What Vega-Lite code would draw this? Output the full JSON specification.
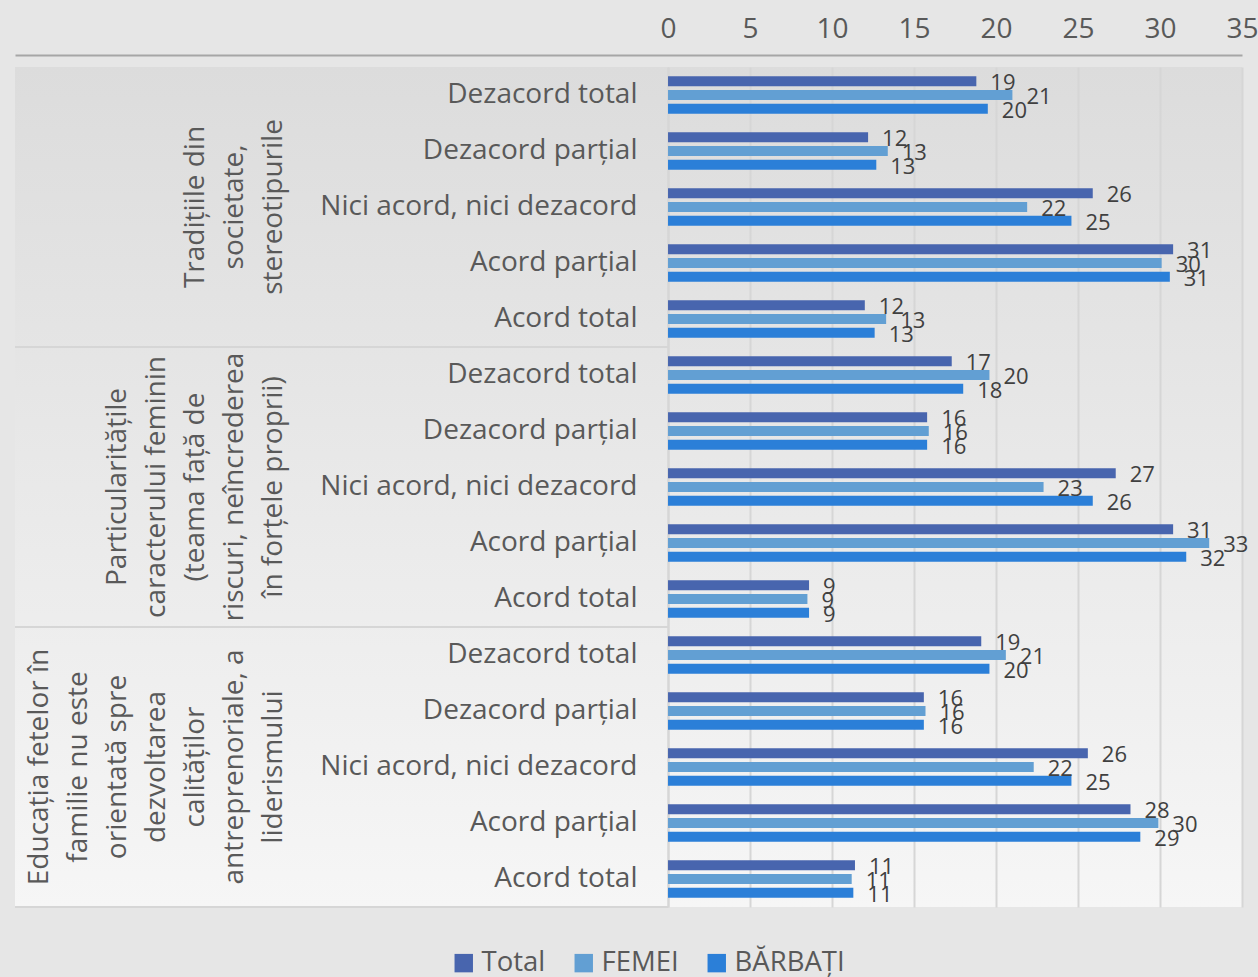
{
  "$schema": "https://vega.github.io/schema/vega-lite/v6.json",
  "width": 1227,
  "height": 840,
  "autosize": {"type": "none"},
  "padding": {"left": 15, "top": 67, "right": 16, "bottom": 70},
  "background": "#E6E6E6",
  "config": {
    "font": "Open Sans",
    "view": {
      "stroke": null,
      "fill": {"gradient": "linear", "x1": 0, "y1": 0, "x2": 0, "y2": 1,
        "stops": [{"offset": 0, "color": "#DCDCDC"}, {"offset": 1, "color": "#F6F6F6"}]}
    }
  },
  "datasets": {
    "bars": [
      {"grup": "Tradițiile din societate, stereotipurile", "cat": "Dezacord total", "serie": "Total", "v": 18.8},
      {"grup": "Tradițiile din societate, stereotipurile", "cat": "Dezacord total", "serie": "FEMEI", "v": 21.0},
      {"grup": "Tradițiile din societate, stereotipurile", "cat": "Dezacord total", "serie": "BĂRBAȚI", "v": 19.5},
      {"grup": "Tradițiile din societate, stereotipurile", "cat": "Dezacord parțial", "serie": "Total", "v": 12.2},
      {"grup": "Tradițiile din societate, stereotipurile", "cat": "Dezacord parțial", "serie": "FEMEI", "v": 13.4},
      {"grup": "Tradițiile din societate, stereotipurile", "cat": "Dezacord parțial", "serie": "BĂRBAȚI", "v": 12.7},
      {"grup": "Tradițiile din societate, stereotipurile", "cat": "Nici acord, nici dezacord", "serie": "Total", "v": 25.9},
      {"grup": "Tradițiile din societate, stereotipurile", "cat": "Nici acord, nici dezacord", "serie": "FEMEI", "v": 21.9},
      {"grup": "Tradițiile din societate, stereotipurile", "cat": "Nici acord, nici dezacord", "serie": "BĂRBAȚI", "v": 24.6},
      {"grup": "Tradițiile din societate, stereotipurile", "cat": "Acord parțial", "serie": "Total", "v": 30.8},
      {"grup": "Tradițiile din societate, stereotipurile", "cat": "Acord parțial", "serie": "FEMEI", "v": 30.1},
      {"grup": "Tradițiile din societate, stereotipurile", "cat": "Acord parțial", "serie": "BĂRBAȚI", "v": 30.6},
      {"grup": "Tradițiile din societate, stereotipurile", "cat": "Acord total", "serie": "Total", "v": 12.0},
      {"grup": "Tradițiile din societate, stereotipurile", "cat": "Acord total", "serie": "FEMEI", "v": 13.3},
      {"grup": "Tradițiile din societate, stereotipurile", "cat": "Acord total", "serie": "BĂRBAȚI", "v": 12.6},
      {"grup": "Particularitățile caracterului feminin (teama față de riscuri, neîncrederea în forțele proprii)", "cat": "Dezacord total", "serie": "Total", "v": 17.3},
      {"grup": "Particularitățile caracterului feminin (teama față de riscuri, neîncrederea în forțele proprii)", "cat": "Dezacord total", "serie": "FEMEI", "v": 19.6},
      {"grup": "Particularitățile caracterului feminin (teama față de riscuri, neîncrederea în forțele proprii)", "cat": "Dezacord total", "serie": "BĂRBAȚI", "v": 18.0},
      {"grup": "Particularitățile caracterului feminin (teama față de riscuri, neîncrederea în forțele proprii)", "cat": "Dezacord parțial", "serie": "Total", "v": 15.8},
      {"grup": "Particularitățile caracterului feminin (teama față de riscuri, neîncrederea în forțele proprii)", "cat": "Dezacord parțial", "serie": "FEMEI", "v": 15.9},
      {"grup": "Particularitățile caracterului feminin (teama față de riscuri, neîncrederea în forțele proprii)", "cat": "Dezacord parțial", "serie": "BĂRBAȚI", "v": 15.8},
      {"grup": "Particularitățile caracterului feminin (teama față de riscuri, neîncrederea în forțele proprii)", "cat": "Nici acord, nici dezacord", "serie": "Total", "v": 27.3},
      {"grup": "Particularitățile caracterului feminin (teama față de riscuri, neîncrederea în forțele proprii)", "cat": "Nici acord, nici dezacord", "serie": "FEMEI", "v": 22.9},
      {"grup": "Particularitățile caracterului feminin (teama față de riscuri, neîncrederea în forțele proprii)", "cat": "Nici acord, nici dezacord", "serie": "BĂRBAȚI", "v": 25.9},
      {"grup": "Particularitățile caracterului feminin (teama față de riscuri, neîncrederea în forțele proprii)", "cat": "Acord parțial", "serie": "Total", "v": 30.8},
      {"grup": "Particularitățile caracterului feminin (teama față de riscuri, neîncrederea în forțele proprii)", "cat": "Acord parțial", "serie": "FEMEI", "v": 33.0},
      {"grup": "Particularitățile caracterului feminin (teama față de riscuri, neîncrederea în forțele proprii)", "cat": "Acord parțial", "serie": "BĂRBAȚI", "v": 31.6},
      {"grup": "Particularitățile caracterului feminin (teama față de riscuri, neîncrederea în forțele proprii)", "cat": "Acord total", "serie": "Total", "v": 8.6},
      {"grup": "Particularitățile caracterului feminin (teama față de riscuri, neîncrederea în forțele proprii)", "cat": "Acord total", "serie": "FEMEI", "v": 8.5},
      {"grup": "Particularitățile caracterului feminin (teama față de riscuri, neîncrederea în forțele proprii)", "cat": "Acord total", "serie": "BĂRBAȚI", "v": 8.6},
      {"grup": "Educația fetelor în familie nu este orientată spre dezvoltarea calităților antreprenoriale, a liderismului", "cat": "Dezacord total", "serie": "Total", "v": 19.1},
      {"grup": "Educația fetelor în familie nu este orientată spre dezvoltarea calităților antreprenoriale, a liderismului", "cat": "Dezacord total", "serie": "FEMEI", "v": 20.6},
      {"grup": "Educația fetelor în familie nu este orientată spre dezvoltarea calităților antreprenoriale, a liderismului", "cat": "Dezacord total", "serie": "BĂRBAȚI", "v": 19.6},
      {"grup": "Educația fetelor în familie nu este orientată spre dezvoltarea calităților antreprenoriale, a liderismului", "cat": "Dezacord parțial", "serie": "Total", "v": 15.6},
      {"grup": "Educația fetelor în familie nu este orientată spre dezvoltarea calităților antreprenoriale, a liderismului", "cat": "Dezacord parțial", "serie": "FEMEI", "v": 15.7},
      {"grup": "Educația fetelor în familie nu este orientată spre dezvoltarea calităților antreprenoriale, a liderismului", "cat": "Dezacord parțial", "serie": "BĂRBAȚI", "v": 15.6},
      {"grup": "Educația fetelor în familie nu este orientată spre dezvoltarea calităților antreprenoriale, a liderismului", "cat": "Nici acord, nici dezacord", "serie": "Total", "v": 25.6},
      {"grup": "Educația fetelor în familie nu este orientată spre dezvoltarea calităților antreprenoriale, a liderismului", "cat": "Nici acord, nici dezacord", "serie": "FEMEI", "v": 22.3},
      {"grup": "Educația fetelor în familie nu este orientată spre dezvoltarea calităților antreprenoriale, a liderismului", "cat": "Nici acord, nici dezacord", "serie": "BĂRBAȚI", "v": 24.6},
      {"grup": "Educația fetelor în familie nu este orientată spre dezvoltarea calităților antreprenoriale, a liderismului", "cat": "Acord parțial", "serie": "Total", "v": 28.2},
      {"grup": "Educația fetelor în familie nu este orientată spre dezvoltarea calităților antreprenoriale, a liderismului", "cat": "Acord parțial", "serie": "FEMEI", "v": 29.9},
      {"grup": "Educația fetelor în familie nu este orientată spre dezvoltarea calităților antreprenoriale, a liderismului", "cat": "Acord parțial", "serie": "BĂRBAȚI", "v": 28.8},
      {"grup": "Educația fetelor în familie nu este orientată spre dezvoltarea calităților antreprenoriale, a liderismului", "cat": "Acord total", "serie": "Total", "v": 11.4},
      {"grup": "Educația fetelor în familie nu este orientată spre dezvoltarea calităților antreprenoriale, a liderismului", "cat": "Acord total", "serie": "FEMEI", "v": 11.2},
      {"grup": "Educația fetelor în familie nu este orientată spre dezvoltarea calităților antreprenoriale, a liderismului", "cat": "Acord total", "serie": "BĂRBAȚI", "v": 11.3}
    ],
    "groups": [
      {"grup": "Tradițiile din societate, stereotipurile"},
      {"grup": "Particularitățile caracterului feminin (teama față de riscuri, neîncrederea în forțele proprii)"},
      {"grup": "Educația fetelor în familie nu este orientată spre dezvoltarea calităților antreprenoriale, a liderismului"}
    ]
  },
  "layer": [
    {
      "data": {"name": "bars"},
      "transform": [{"calculate": "datum.grup + '|' + datum.cat", "as": "key"}],
      "encoding": {
        "y": {
          "field": "key", "type": "nominal", "sort": null,
          "scale": {"paddingInner": 0.33, "paddingOuter": 0.165},
          "axis": {
            "orient": "left", "offset": -653, "title": null,
            "labelExpr": "split(datum.label, '|')[1]",
            "ticks": false, "labelPadding": 31, "labelFontSize": 28,
            "labelColor": "#595959", "labelLimit": 600,
            "domain": true, "domainColor": "#D6D6D6", "domainWidth": 2, "grid": false
          }
        },
        "yOffset": {
          "field": "serie", "type": "nominal", "sort": ["Total", "FEMEI", "BĂRBAȚI"],
          "scale": {"paddingInner": 0.26, "paddingOuter": 0}
        },
        "x": {
          "field": "v", "type": "quantitative",
          "scale": {"domain": [-39.82, 35], "nice": false, "zero": false},
          "axis": {
            "orient": "top", "title": null, "values": [0, 5, 10, 15, 20, 25, 30, 35],
            "grid": true, "gridColor": "#D6D6D6", "gridWidth": 2, "labelFlush": false,
            "ticks": false, "domain": true, "domainColor": "#A6A6A6", "domainWidth": 2,
            "offset": 12, "labelPadding": 12, "labelFontSize": 28, "labelColor": "#595959"
          }
        }
      },
      "layer": [
        {
          "mark": {"type": "bar"},
          "encoding": {
            "x2": {"datum": 0},
            "color": {
              "field": "serie", "type": "nominal",
              "scale": {"domain": ["Total", "FEMEI", "BĂRBAȚI"], "range": ["#4865AE", "#629FD3", "#2B7FD8"]},
              "legend": {
                "orient": "none", "legendX": 435, "legendY": 882, "direction": "horizontal",
                "title": null, "symbolType": "square", "symbolSize": 340, "symbolStrokeWidth": 0,
                "labelFontSize": 27.5, "labelColor": "#595959", "labelOffset": 4,
                "columnPadding": 24, "padding": 0, "labelLimit": 400
              }
            }
          }
        },
        {
          "mark": {"type": "text", "align": "left", "baseline": "middle", "dx": 14, "dy": 2, "fontSize": 22, "color": "#404040"},
          "encoding": {
            "text": {"field": "v", "type": "quantitative", "format": ".0f"}
          }
        }
      ]
    },
    {
      "data": {"name": "groups"},
      "mark": {"type": "rule", "color": "#D6D6D6", "strokeWidth": 2},
      "encoding": {
        "y": {
          "field": "grup", "type": "nominal", "sort": null, "bandPosition": 1,
          "scale": {"paddingInner": 0, "paddingOuter": 0},
          "axis": {
            "orient": "left", "offset": -38, "title": null, "ticks": false, "domain": false, "grid": false,
            "labelAngle": 270, "labelAlign": "center", "labelBaseline": "bottom", "labelPadding": 0,
            "labelFontSize": 28, "labelLineHeight": 39, "labelColor": "#595959", "labelLimit": 600,
            "labelExpr": "indexof(datum.label, 'Tradi') == 0 ? ['\u200b', '\u200b', '\u200b', '\u200b', 'Tradițiile din', 'societate,', 'stereotipurile'] : indexof(datum.label, 'Particular') == 0 ? ['\u200b', '\u200b', 'Particularitățile', 'caracterului feminin', '(teama față de', 'riscuri, neîncrederea', 'în forțele proprii)'] : ['Educația fetelor în', 'familie nu este', 'orientată spre', 'dezvoltarea', 'calităților', 'antreprenoriale, a', 'liderismului']"
          }
        },
        "x": {"datum": 0, "type": "quantitative", "title": null},
        "x2": {"value": 0}
      }
    }
  ],
  "resolve": {"scale": {"y": "independent"}, "axis": {"y": "independent"}}
}
